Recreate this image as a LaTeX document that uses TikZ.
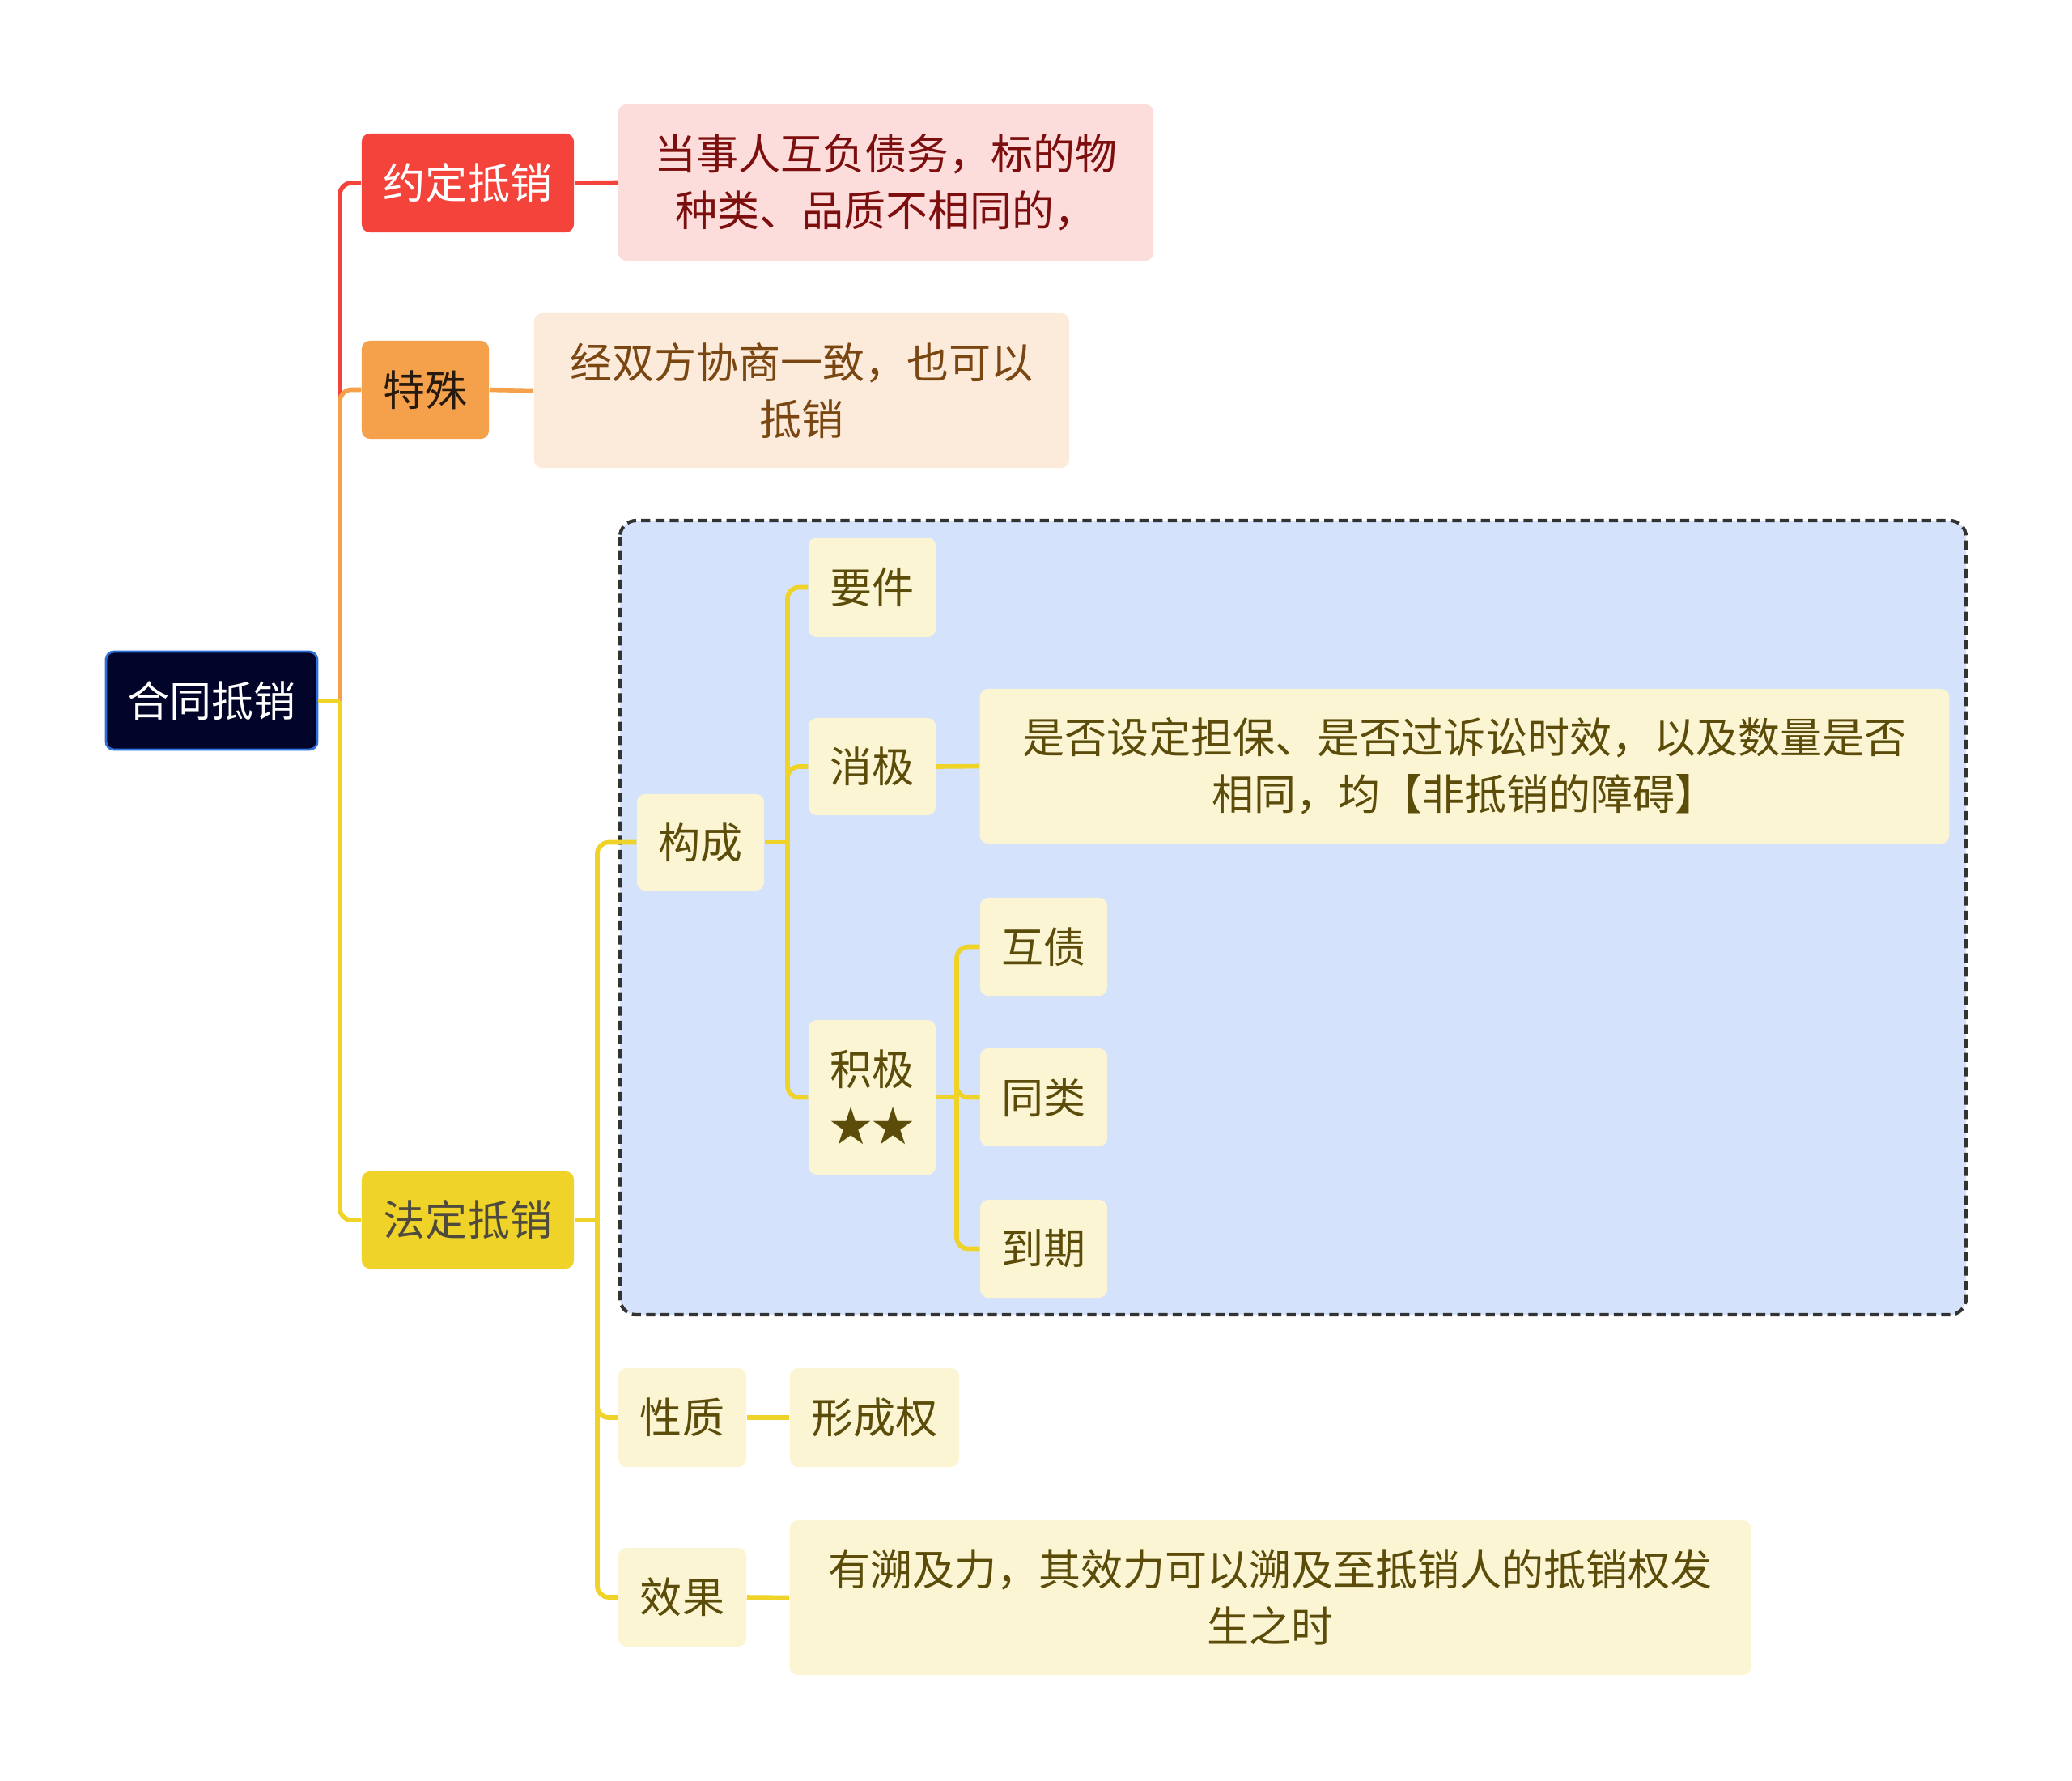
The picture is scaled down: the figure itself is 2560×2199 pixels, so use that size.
\documentclass[tikz,border=0pt]{standalone}
\usepackage{fontspec}
\setmainfont{Noto Sans CJK SC}
\usepackage{tikz}

\definecolor{rootfill}{HTML}{03042A}
\definecolor{rootedge}{HTML}{2F6FD8}
\definecolor{redc}{HTML}{F4433B}
\definecolor{pinkfill}{HTML}{FDDCDC}
\definecolor{pinktext}{HTML}{7D0E0E}
\definecolor{orangec}{HTML}{F5A04B}
\definecolor{peachfill}{HTML}{FCEBDB}
\definecolor{peachtext}{HTML}{7A4612}
\definecolor{yellowc}{HTML}{F0D328}
\definecolor{creamfill}{HTML}{FBF5D4}
\definecolor{creamtext}{HTML}{5C4C0A}
\definecolor{groupfill}{HTML}{D4E3FB}

\begin{document}
\begin{tikzpicture}[
    x=0.01cm, y=-0.01cm,
    box/.style={rounded corners=0.1cm, inner sep=0pt, align=center,
      font=\fontsize{14.8pt}{20pt}\selectfont},
    rootbox/.style={box, fill=rootfill, draw=rootedge, line width=0.8pt, text=white},
    redbox/.style={box, fill=redc, text=white},
    pinkbox/.style={box, fill=pinkfill, text=pinktext},
    orangebox/.style={box, fill=orangec, text=black!80!brown},
    peachbox/.style={box, fill=peachfill, text=peachtext},
    yellowbox/.style={box, fill=yellowc, text=black!80!yellow},
    creambox/.style={box, fill=creamfill, text=creamtext},
    redline/.style={draw=redc, line width=1.6pt, rounded corners=0.14cm},
    orangeline/.style={draw=orangec, line width=1.6pt, rounded corners=0.14cm},
    yellowline/.style={draw=yellowc, line width=1.6pt, rounded corners=0.14cm},
  ]
  \useasboundingbox (0,0) rectangle (2560,2199);

  % group behind the legal branch
  \draw[fill=groupfill, draw=black!80, dash pattern=on 3.2pt off 1.8pt, line width=1.2pt, rounded corners=0.2cm]
    (766,643) rectangle (2429,1624);

  \node[rootbox, minimum width=2.61cm, minimum height=1.21cm] (root) at (261.5,865.5) {合同抵销};

  \node[redbox, minimum width=2.62cm, minimum height=1.22cm] (yd) at (578,226) {约定抵销};
  \node[pinkbox, minimum width=6.61cm, minimum height=1.93cm] (yddesc) at (1094.5,225.5)
    {当事人互负债务，标的物\\种类、品质不相同的，};

  \node[orangebox, minimum width=1.57cm, minimum height=1.21cm] (ts) at (525.5,481.5) {特殊};
  \node[peachbox, minimum width=6.61cm, minimum height=1.91cm] (tsdesc) at (990.5,482.5)
    {经双方协商一致，也可以\\抵销};

  \node[yellowbox, minimum width=2.62cm, minimum height=1.20cm] (fd) at (578,1507) {法定抵销};

  \node[creambox, minimum width=1.57cm, minimum height=1.19cm] (gc) at (865.5,1040.5) {构成};
  \node[creambox, minimum width=1.57cm, minimum height=1.23cm] (yj) at (1077.5,725.5) {要件};
  \node[creambox, minimum width=1.57cm, minimum height=1.20cm] (xj) at (1077.5,947) {消极};
  \node[creambox, minimum width=11.97cm, minimum height=1.91cm] (xjdesc) at (1809.5,946.5)
    {是否设定担保、是否过诉讼时效，以及数量是否\\相同，均【非抵销的障碍】};
  \node[creambox, minimum width=1.57cm, minimum height=1.91cm] (jj) at (1077.5,1355.5) {积极\\★★};
  \node[creambox, minimum width=1.57cm, minimum height=1.21cm] (hz) at (1289.5,1169.5) {互债};
  \node[creambox, minimum width=1.57cm, minimum height=1.21cm] (tl) at (1289.5,1355.5) {同类};
  \node[creambox, minimum width=1.57cm, minimum height=1.21cm] (dq) at (1289.5,1542.5) {到期};

  \node[creambox, minimum width=1.58cm, minimum height=1.22cm] (xz) at (843,1751) {性质};
  \node[creambox, minimum width=2.09cm, minimum height=1.22cm] (xcq) at (1080.5,1751) {形成权};
  \node[creambox, minimum width=1.58cm, minimum height=1.22cm] (xg) at (843,1973) {效果};
  \node[creambox, minimum width=11.87cm, minimum height=1.91cm] (xgdesc) at (1569.5,1973.5)
    {有溯及力，其效力可以溯及至抵销人的抵销权发\\生之时};

  \coordinate (rootj) at (420,865.5);
  \coordinate (fdj) at (738,1507);
  \coordinate (gcj) at (973,1040.5);
  \coordinate (jjj) at (1182,1355.5);

  \draw[redline] (rootj) |- (yd.west);
  \draw[redline] (yd.east) -- (yddesc.west);
  \draw[orangeline] (rootj) |- (ts.west);
  \draw[orangeline] (ts.east) -- (tsdesc.west);
  \draw[yellowline] (rootj) |- (fd.west);
  \draw[yellowline] (root.east) -- (rootj);

  \draw[yellowline] (fd.east) -- (fdj);
  \foreach \kid in {gc,xz,xg}
    \draw[yellowline] (fdj) |- (\kid.west);
  \draw[yellowline] (gc.east) -- (gcj);
  \foreach \kid in {yj,xj,jj}
    \draw[yellowline] (gcj) |- (\kid.west);
  \draw[yellowline] (xj.east) -- (xjdesc.west);
  \draw[yellowline] (jj.east) -- (jjj);
  \foreach \kid in {hz,tl,dq}
    \draw[yellowline] (jjj) |- (\kid.west);
  \draw[yellowline] (xz.east) -- (xcq.west);
  \draw[yellowline] (xg.east) -- (xgdesc.west);
\end{tikzpicture}
\end{document}
